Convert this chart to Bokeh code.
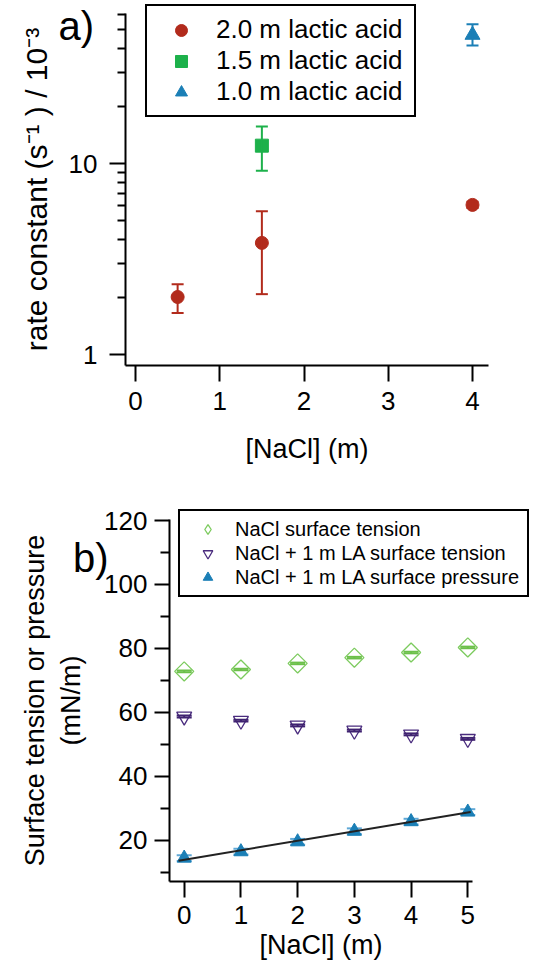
from bokeh.plotting import figure
from bokeh.models import (Range1d, FixedTicker, PrintfTickFormatter, Legend, LegendItem,
                          Whisker, TeeHead, ColumnDataSource, Label, LinearAxis, LogAxis)
from bokeh.layouts import column
from bokeh.embed import file_html
from bokeh.resources import INLINE
import numpy as np

FONT = "Liberation Sans"

# ---------------- Panel a data ----------------
a_x_20 = [0.5, 1.5, 4.0]
a_k_20 = [2.0, 3.84, 6.07]
a_lo_20 = [1.65, 2.07, 5.85]
a_hi_20 = [2.33, 5.63, 6.30]

a_x_15 = [1.5]
a_k_15 = [12.4]
a_lo_15 = [9.16]
a_hi_15 = [15.6]

a_x_10 = [4.0]
a_k_10 = [47.1]
a_lo_10 = [41.5]
a_hi_10 = [53.6]

a_xticks = [0, 1, 2, 3, 4]
a_yticks = [1, 10]
a_yminor = [2, 3, 4, 5, 6, 7, 8, 9, 20, 30, 40, 50, 60]
a_xbounds = (-0.12, 4.19)
a_ybounds = (0.875, 61)

# ---------------- Panel b data ----------------
b_nacl = [0, 1, 2, 3, 4, 5]
b_nacl_st = [72.8, 73.4, 75.3, 77.1, 78.7, 80.3]
b_nacl_st_err = [0.25, 0.25, 0.25, 0.25, 0.25, 0.25]
b_la_st = [58.7, 57.4, 55.9, 54.3, 53.1, 51.7]
b_la_st_err = [0.3, 0.3, 0.3, 0.3, 0.3, 0.3]
b_la_sp = [14.4, 16.4, 19.5, 22.8, 25.8, 28.8]
b_la_sp_err = [0.9, 0.9, 0.9, 0.9, 0.9, 0.9]

b_xticks = [0, 1, 2, 3, 4, 5]
b_yticks = [20, 40, 60, 80, 100, 120]
b_yminor = [10, 30, 50, 70, 90, 110]
b_xbounds = (-0.26, 5.09)
b_ybounds = (7.1, 120.3)

RED = "#B22B1C"
GREEN = "#1DB14B"
BLUE = "#1B7FB6"
LGREEN = "#7CCB5E"
PURPLE = "#4A2C7E"

# ---------------- layout calibration (canvas pixels) ----------------
A_W, A_H = 558, 468
A_XPX0, A_XPPU = 135.0, 84.25          # canvas x of NaCl=0, px per unit
A_YPX1, A_YPPD = 354.0, 191.0          # canvas y of k=1, px per decade

B_W, B_H = 558, 501
B_XPX0, B_XPPU = 183.7, 56.72
B_YPX20, B_YPPU = 371.7, 3.197


def a_x(px):
    return (px - A_XPX0) / A_XPPU


def a_y(py):
    return 10 ** ((A_YPX1 - py) / A_YPPD)


def b_x(px):
    return (px - B_XPX0) / B_XPPU


def b_y(py):
    return 20 + (B_YPX20 - py) / B_YPPU


def style_axis(ax, tick_out, minor_out, label_standoff, axis_label_standoff, label_size="27px"):
    ax.axis_line_width = 2
    ax.axis_line_color = "black"
    ax.major_tick_line_width = 2
    ax.minor_tick_line_width = 2
    ax.major_tick_line_color = "black"
    ax.minor_tick_line_color = "black"
    ax.major_tick_in = 0
    ax.minor_tick_in = 0
    ax.major_tick_out = tick_out
    ax.minor_tick_out = minor_out
    ax.major_label_standoff = label_standoff
    ax.axis_label_standoff = axis_label_standoff
    ax.major_label_text_font = FONT
    ax.major_label_text_font_size = "26px"
    ax.major_label_text_color = "black"
    ax.axis_label_text_font = FONT
    ax.axis_label_text_font_size = label_size
    ax.axis_label_text_font_style = "normal"
    ax.axis_label_text_color = "black"


def add_whisker(p, xs, lo, hi, color, size, width, level="annotation"):
    src = ColumnDataSource(dict(x=xs, lo=lo, hi=hi))
    w = Whisker(source=src, base="x", lower="lo", upper="hi", dimension="height",
                line_color=color, line_width=width, level=level,
                upper_head=TeeHead(size=size, line_color=color, line_width=width),
                lower_head=TeeHead(size=size, line_color=color, line_width=width))
    p.add_layout(w)


# ================= Panel a =================
pa = figure(width=A_W, height=A_H,
            x_range=Range1d(a_x(0), a_x(A_W)), y_range=Range1d(a_y(A_H), a_y(0)),
            y_axis_type="log", x_axis_location=None, y_axis_location=None,
            output_backend="svg", toolbar_location=None,
            min_border_left=0, min_border_right=0, min_border_top=0, min_border_bottom=0)
pa.outline_line_color = None
pa.grid.visible = False
pa.background_fill_color = "white"

ax_a_x = LinearAxis(fixed_location=a_ybounds[0], bounds=a_xbounds,
                    ticker=FixedTicker(ticks=a_xticks, minor_ticks=[]),
                    axis_label="[NaCl] (m)")
ax_a_y = LogAxis(fixed_location=a_xbounds[0], bounds=a_ybounds,
                 ticker=FixedTicker(ticks=a_yticks, minor_ticks=a_yminor),
                 formatter=PrintfTickFormatter(format="%d"),
                 axis_label="rate constant (s\u207b\u00b9 ) / 10\u207b\u00b3")
style_axis(ax_a_x, 16, 0, 10, 21)
style_axis(ax_a_y, 16, 8, 12, 13, label_size="30px")
pa.add_layout(ax_a_x, "below")
pa.add_layout(ax_a_y, "left")

add_whisker(pa, a_x_20, a_lo_20, a_hi_20, RED, 12, 2)
add_whisker(pa, a_x_15, a_lo_15, a_hi_15, GREEN, 12, 2)
add_whisker(pa, a_x_10, a_lo_10, a_hi_10, BLUE, 12, 2)

r20 = pa.scatter(a_x_20, a_k_20, marker="circle", size=13, fill_color=RED, line_color=RED)
r15 = pa.scatter(a_x_15, a_k_15, marker="square", size=13, fill_color=GREEN, line_color=GREEN)
r10 = pa.scatter(a_x_10, a_k_10, marker="triangle", size=15, fill_color=BLUE, line_color=BLUE)

leg_a = Legend(items=[LegendItem(label="2.0 m lactic acid", renderers=[r20]),
                      LegendItem(label="1.5 m lactic acid", renderers=[r15]),
                      LegendItem(label="1.0 m lactic acid", renderers=[r10])],
               location=(145, A_H - 117), padding=8, spacing=0, glyph_height=30, glyph_width=52,
               label_standoff=9, label_width=190, label_height=30,
               label_text_font=FONT, label_text_font_size="26px", label_text_color="black",
               border_line_color="black", border_line_width=2, border_line_alpha=1.0,
               background_fill_color="white", background_fill_alpha=1.0, margin=0)
pa.add_layout(leg_a)

pa.add_layout(Label(x=a_x(58), y=a_y(25.5), text="a)",
                    text_font=FONT, text_font_size="40px", text_baseline="alphabetic",
                    text_align="left", text_color="black"))

# ================= Panel b =================
pb = figure(width=B_W, height=B_H,
            x_range=Range1d(b_x(0), b_x(B_W)), y_range=Range1d(b_y(B_H), b_y(0)),
            x_axis_location=None, y_axis_location=None,
            output_backend="svg", toolbar_location=None,
            min_border_left=0, min_border_right=0, min_border_top=0, min_border_bottom=0)
pb.outline_line_color = None
pb.grid.visible = False
pb.background_fill_color = "white"

ax_b_x = LinearAxis(fixed_location=b_ybounds[0], bounds=b_xbounds,
                    ticker=FixedTicker(ticks=b_xticks, minor_ticks=[]),
                    axis_label="[NaCl] (m)")
ax_b_y = LinearAxis(fixed_location=b_xbounds[0], bounds=b_ybounds,
                    ticker=FixedTicker(ticks=b_yticks, minor_ticks=b_yminor),
                    axis_label="Surface tension or pressure\n(mN/m)")
style_axis(ax_b_x, 16, 0, 9, 2)
style_axis(ax_b_y, 15, 9, 7, 15)
pb.add_layout(ax_b_x, "below")
pb.add_layout(ax_b_y, "left")

b_lo_st = [v - e for v, e in zip(b_nacl_st, b_nacl_st_err)]
b_hi_st = [v + e for v, e in zip(b_nacl_st, b_nacl_st_err)]
b_lo_la = [v - e for v, e in zip(b_la_st, b_la_st_err)]
b_hi_la = [v + e for v, e in zip(b_la_st, b_la_st_err)]
b_lo_sp = [v - e for v, e in zip(b_la_sp, b_la_sp_err)]
b_hi_sp = [v + e for v, e in zip(b_la_sp, b_la_sp_err)]

add_whisker(pb, b_nacl, b_lo_sp, b_hi_sp, "#5FA8D6", 15, 2, level="underlay")

rd = pb.scatter(b_nacl, b_nacl_st, marker="square", size=13.5, angle=np.pi / 4,
                fill_color=None, line_color=LGREEN, line_width=1.3)
rt = pb.scatter(b_nacl, b_la_st, marker="inverted_triangle", size=15,
                fill_color=None, line_color=PURPLE, line_width=1.3)
rp = pb.scatter(b_nacl, b_la_sp, marker="triangle", size=14,
                fill_color=BLUE, line_color=BLUE)
# legend swatch for the diamonds (legend draws markers unrotated); zero size in the plot itself
rd_key = pb.scatter(b_nacl, b_nacl_st, marker="diamond", size=0, fill_color=None,
                    line_color=LGREEN, line_width=1.3)

add_whisker(pb, b_nacl, b_lo_st, b_hi_st, "#6CC04A", 15, 2)
add_whisker(pb, b_nacl, b_lo_la, b_hi_la, "#3F2270", 15, 2)

slope, intercept = np.polyfit(b_nacl, b_la_sp, 1)
fit_x = [b_nacl[0] - 0.1, b_nacl[-1] + 0.05]
fit_y = [intercept + slope * x for x in fit_x]
pb.line(fit_x, fit_y, line_color="#222222", line_width=2)

leg_b = Legend(items=[LegendItem(label="NaCl surface tension", renderers=[rd_key]),
                      LegendItem(label="NaCl + 1 m LA surface tension", renderers=[rt]),
                      LegendItem(label="NaCl + 1 m LA surface pressure", renderers=[rp])],
               location=(178, B_H - 129), padding=6, spacing=0, glyph_height=24, glyph_width=43,
               label_standoff=6, label_width=286, label_height=24,
               label_text_font=FONT, label_text_font_size="20px", label_text_color="black",
               border_line_color="black", border_line_width=2, border_line_alpha=1.0,
               background_fill_color="white", background_fill_alpha=1.0, margin=0)
pb.add_layout(leg_b)

pb.add_layout(Label(x=b_x(72.4), y=b_y(89), text="b)",
                    text_font=FONT, text_font_size="40px", text_baseline="alphabetic",
                    text_align="left", text_color="black"))

layout = column(pa, pb, spacing=0)
open("out.html", "w").write(file_html(layout, INLINE))
